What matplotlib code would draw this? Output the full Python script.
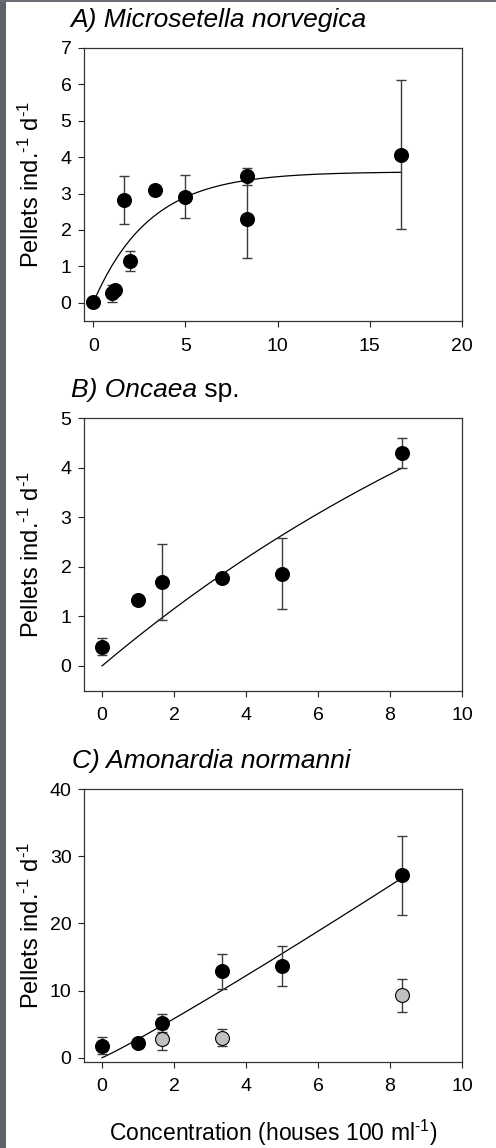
import numpy as np
import matplotlib
matplotlib.use("Agg")
import matplotlib.pyplot as plt
from matplotlib.patches import Rectangle

plt.rcParams['font.family'] = ['Liberation Sans', 'DejaVu Sans']
plt.rcParams['mathtext.fontset'] = 'custom'
plt.rcParams['mathtext.rm'] = 'Liberation Sans'
plt.rcParams['mathtext.it'] = 'Liberation Sans:italic'
plt.rcParams['mathtext.default'] = 'regular'

# A) Microsetella norvegica
a_conc = [0, 1.0, 1.17, 1.67, 2.0, 3.33, 5.0, 8.33, 8.33, 16.67]
a_rate = [0.03, 0.26, 0.35, 2.82, 1.14, 3.09, 2.92, 3.47, 2.29, 4.07]
a_err = [0, 0.24, 0, 0.65, 0.28, 0, 0.59, 0.24, 1.06, 2.04]
a_fit = (3.6, 0.328)          # y = a * (1 - exp(-b x))

# B) Oncaea sp.
b_conc = [0, 1.0, 1.67, 3.33, 5.0, 8.33]
b_rate = [0.39, 1.34, 1.69, 1.77, 1.86, 4.30]
b_err = [0.17, 0, 0.77, 0, 0.72, 0.31]
b_fit = (9.9, 0.062)          # y = a * (1 - exp(-b x))

# C) Amonardia normanni
c_conc = [0, 1.0, 1.67, 3.33, 5.0, 8.33]
c_rate = [1.8, 2.2, 5.15, 12.85, 13.7, 27.2]
c_err = [1.25, 0, 1.3, 2.6, 2.95, 5.9]
c2_conc = [1.67, 3.33, 8.33]
c2_rate = [2.75, 3.0, 9.3]
c2_err = [1.55, 1.27, 2.45]
c_fit = (2.77, 1.07)          # y = a * x**c

W, H = 496, 1148
fig = plt.figure(figsize=(W / 100, H / 100), dpi=100)

# dark backdrop strip on the left and top edge
fig.patches.append(Rectangle((0, 0), 6 / W, 1, transform=fig.transFigure,
                             facecolor='#5e6269', edgecolor='none', zorder=-5))
fig.patches.append(Rectangle((0, 1 - 1.5 / H), 1, 1.5 / H, transform=fig.transFigure,
                             facecolor='#6a6d73', edgecolor='none', zorder=-5))

left, right = 84, 462
boxes = [(48, 321), (418.3, 690.7), (789.3, 1061.7)]
axes = []
for top, bot in boxes:
    ax = fig.add_axes([left / W, 1 - bot / H, (right - left) / W, (bot - top) / H])
    axes.append(ax)

ERR_COL = '#3c3c3c'
MS = 10


def draw(ax, x, y, e, face, fit_x=None, fit_y=None):
    x = np.asarray(x, float)
    y = np.asarray(y, float)
    e = np.asarray(e, float)
    m = e > 0
    if fit_x is not None:
        ax.plot(fit_x, fit_y, color='black', lw=0.9, zorder=2)
    ax.errorbar(x[m], y[m], yerr=e[m], fmt='none', ecolor=ERR_COL, elinewidth=1.0,
                capsize=3.3, capthick=1.0, zorder=3)
    ax.plot(x, y, 'o', ms=MS, mfc=face, mec='black', mew=0.8, zorder=4)


def style(ax, xlim, xticks, ylim, yticks):
    ax.set_xlim(*xlim)
    ax.set_ylim(*ylim)
    ax.set_xticks(xticks)
    ax.set_yticks(yticks)
    ax.tick_params(direction='out', length=4, width=0.8, labelsize=14,
                   colors='#222222', labelcolor='black')
    ax.tick_params(axis='x', pad=8)
    ax.tick_params(axis='y', pad=5)
    for s in ax.spines.values():
        s.set_color('#333333')
        s.set_linewidth(0.9)


# Panel A
xa = np.linspace(0, max(a_conc), 200)
draw(axes[0], a_conc, a_rate, a_err, 'black', xa, a_fit[0] * (1 - np.exp(-a_fit[1] * xa)))
style(axes[0], (-0.5, 20), [0, 5, 10, 15, 20], (-0.5, 7), range(0, 8))

# Panel B
xb = np.linspace(0, max(b_conc), 200)
draw(axes[1], b_conc, b_rate, b_err, 'black', xb, b_fit[0] * (1 - np.exp(-b_fit[1] * xb)))
style(axes[1], (-0.5, 10), range(0, 11, 2), (-0.5, 5), range(0, 6))

# Panel C
xc = np.linspace(0, max(c_conc), 200)
draw(axes[2], c_conc, c_rate, c_err, 'black', xc, c_fit[0] * xc ** c_fit[1])
draw(axes[2], c2_conc, c2_rate, c2_err, '#c0c0c0')
style(axes[2], (-0.5, 10), range(0, 11, 2), (-0.6, 40), range(0, 41, 10))

# y-axis labels
ylab = r'Pellets ind.$^{\text{-}1}$ d$^{\text{-}1}$'
for top, bot in boxes:
    fig.text(31 / W, 1 - (top + bot) / 2 / H, ylab, rotation=90, ha='center',
             va='center', fontsize=17)

# panel titles
TS = 19
fig.text(70 / W, 1 - 27 / H, 'A) Microsetella norvegica', style='italic',
         fontsize=TS, va='baseline')
tb = fig.text(71 / W, 1 - 396.7 / H, 'B) Oncaea', style='italic', fontsize=TS,
              va='baseline')
axes[1].annotate(' sp.', xy=(1, 0), xycoords=tb, ha='left', va='bottom',
                 fontsize=TS, annotation_clip=False)
fig.text(72 / W, 1 - 768 / H, 'C) Amonardia normanni', style='italic',
         fontsize=TS, va='baseline')

# shared x-axis label
fig.text(273 / W, 1 - 1141 / H, r'Concentration (houses 100 ml$^{\text{-}1}$)',
         ha='center', va='baseline', fontsize=16.5)

fig.savefig('out.png', dpi=100)
